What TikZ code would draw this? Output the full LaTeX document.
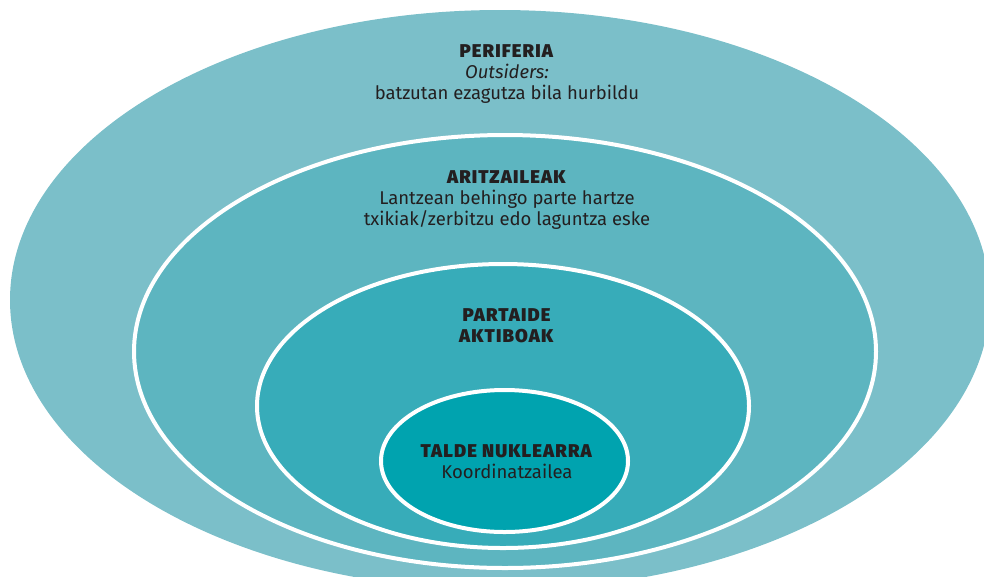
\documentclass[tikz,border=0pt]{standalone}
\usepackage{fontspec}
\setmainfont{Fira Sans}[BoldFont={Fira Sans Black},BoldFeatures={LetterSpace=6}]
\definecolor{periferia}{HTML}{7BBFC9}
\definecolor{aritzaile}{HTML}{5DB5C0}
\definecolor{partaide}{HTML}{37ACB9}
\definecolor{nukleo}{HTML}{00A3AF}
\definecolor{testua}{HTML}{231F20}
\tikzset{
  ring/.style={draw=white,line width=4pt},
  lbl/.style={text=testua,align=center,font=\fontsize{18.5}{21}\selectfont}
}
\begin{document}
\begin{tikzpicture}[x=1pt,y=-1pt]
\useasboundingbox (0,0) rectangle (984,576);
\fill[periferia] (500,300) ellipse [x radius=490pt, y radius=290pt];
\fill[aritzaile,ring] (505,351.5) ellipse [x radius=371pt, y radius=216.5pt];
\fill[partaide,ring] (503,406) ellipse [x radius=246pt, y radius=142pt];
\fill[nukleo,ring] (504.5,461) ellipse [x radius=123.5pt, y radius=71pt];
\node[lbl] (periferia) at (507,74) {\textbf{PERIFERIA}\\\textit{Outsiders:}\\batzutan ezagutza bila hurbildu};
\node[lbl] (aritzaile) at (507,200) {\textbf{ARITZAILEAK}\\Lantzean behingo parte hartze\\txikiak/zerbitzu edo laguntza eske};
\node[lbl] (partaide) at (507,326) {\textbf{PARTAIDE}\\\textbf{AKTIBOAK}};
\node[lbl] (nukleo) at (507,462) {\textbf{TALDE NUKLEARRA}\\Koordinatzailea};
\end{tikzpicture}
\end{document}
